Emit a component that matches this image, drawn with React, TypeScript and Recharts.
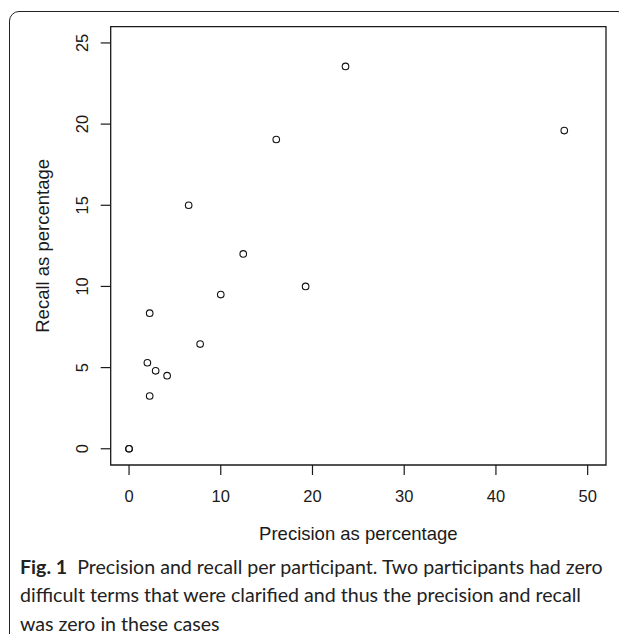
import React from 'react';
import { ScatterChart, Scatter, XAxis, YAxis, ReferenceArea, Label } from 'recharts';

// values (two participants sit at 0,0)
const precision = [0, 0, 2.25, 2.0, 2.9, 4.15, 2.25, 6.5, 7.75, 10.0, 12.45, 16.05, 19.25, 23.6, 47.45];
const recall = [0, 0, 8.35, 5.3, 4.8, 4.5, 3.25, 15.0, 6.45, 9.5, 12.0, 19.05, 10.0, 23.55, 19.6];

const xTicks = [0, 10, 20, 30, 40, 50];
const yTicks = [0, 5, 10, 15, 20, 25];
const xDomain = [-2, 52];
const yDomain = [-1, 26];

const xTitle = 'Precision as percentage';
const yTitle = 'Recall as percentage';

const captionLines = [
    'Precision and recall per participant. Two participants had zero',
    'difficult terms that were clarified and thus the precision and recall',
    'was zero in these cases',
];

const rFont = '"Liberation Sans", Arial, sans-serif';
const ink = '#1a1a1a';

const XTick = (props: any) => {
    const { x, y, payload } = props;
    return (
        <text x={x} y={y + 27} textAnchor="middle" fontSize={16.5} fill={ink} fontFamily={rFont}>
            {payload.value}
        </text>
    );
};

const YTick = (props: any) => {
    const { x, y, payload } = props;
    const cx = x - 18.7;
    return (
        <text
            x={cx}
            y={y}
            transform={`rotate(-90 ${cx} ${y})`}
            textAnchor="middle"
            dominantBaseline="central"
            fontSize={16.5}
            fill={ink}
            fontFamily={rFont}
        >
            {payload.value}
        </text>
    );
};

const OpenCircle = (props: any) => (
    <circle cx={props.cx} cy={props.cy} r={3.3} fill="none" stroke="#111" strokeWidth={1.1} />
);

export default function App() {
    const data = precision.map((p, i) => ({ precision: p, recall: recall[i] }));

    return (
        <div style={{ position: 'relative', width: 619, height: 626, overflow: 'hidden', background: '#fff' }}>
            {/* figure frame */}
            <div
                style={{
                    position: 'absolute',
                    left: 1,
                    top: 2.5,
                    width: 619,
                    height: 700,
                    border: '1.3px solid #222',
                    borderTopLeftRadius: 10,
                    borderTopRightRadius: 10,
                    boxSizing: 'border-box',
                }}
            />

            <div style={{ position: 'absolute', left: 0, top: 0 }}>
                <ScatterChart
                    width={619}
                    height={540}
                    margin={{ top: 18.7, right: 21, left: 12.7, bottom: 3 }}
                >
                    <XAxis
                        type="number"
                        dataKey="precision"
                        domain={xDomain}
                        ticks={xTicks}
                        allowDataOverflow
                        axisLine={false}
                        tickSize={10}
                        tickMargin={0}
                        tickLine={{ stroke: ink, strokeWidth: 1.2 }}
                        tick={<XTick />}
                        height={80}
                    >
                        <Label
                            content={(p: any) => {
                                const vb = p.viewBox;
                                return (
                                    <text
                                        x={vb.x + vb.width / 2}
                                        y={vb.y + 75}
                                        textAnchor="middle"
                                        fontSize={18.5}
                                        fill={ink}
                                        fontFamily={rFont}
                                    >
                                        {xTitle}
                                    </text>
                                );
                            }}
                        />
                    </XAxis>
                    <YAxis
                        type="number"
                        dataKey="recall"
                        domain={yDomain}
                        ticks={yTicks}
                        allowDataOverflow
                        axisLine={false}
                        tickSize={10}
                        tickMargin={0}
                        tickLine={{ stroke: ink, strokeWidth: 1.2 }}
                        tick={<YTick />}
                        width={90}
                    >
                        <Label
                            content={(p: any) => {
                                const vb = p.viewBox;
                                const cx = vb.x + vb.width - 67.7;
                                const cy = vb.y + vb.height / 2;
                                return (
                                    <text
                                        x={cx}
                                        y={cy}
                                        transform={`rotate(-90 ${cx} ${cy})`}
                                        textAnchor="middle"
                                        dominantBaseline="central"
                                        fontSize={18.5}
                                        fill={ink}
                                        fontFamily={rFont}
                                    >
                                        {yTitle}
                                    </text>
                                );
                            }}
                        />
                    </YAxis>
                    <ReferenceArea
                        x1={xDomain[0]}
                        x2={xDomain[1]}
                        y1={yDomain[0]}
                        y2={yDomain[1]}
                        fill="none"
                        stroke={ink}
                        strokeWidth={1.3}
                        ifOverflow="visible"
                    />
                    <Scatter data={data} shape={<OpenCircle />} isAnimationActive={false} />
                </ScatterChart>
            </div>

            {/* caption */}
            <div
                style={{
                    position: 'absolute',
                    left: 12,
                    top: 544.5,
                    width: 610,
                    fontFamily: 'Lato, "Open Sans", sans-serif',
                    fontSize: 19.6,
                    lineHeight: '28.5px',
                    color: '#222',
                    whiteSpace: 'nowrap',
                }}
            >
                <span style={{ fontWeight: 700 }}>Fig. 1</span>
                <span>{'\u00a0\u00a0'}{captionLines[0]}</span>
                <br />
                {captionLines[1]}
                <br />
                {captionLines[2]}
            </div>
        </div>
    );
}
